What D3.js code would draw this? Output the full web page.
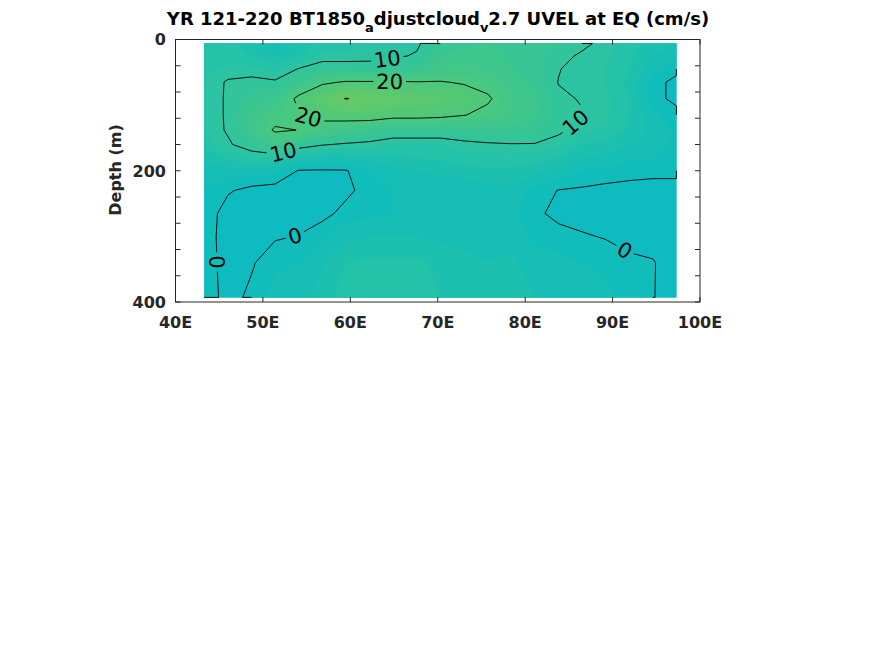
<!DOCTYPE html>
<html>
<head>
<meta charset="utf-8">
<script src="https://cdn.jsdelivr.net/npm/d3@7"></script>
<style>
  body { margin: 0; background: #fff; }
  text { font-family: "DejaVu Sans", sans-serif; }
</style>
</head>
<body>
<svg id="chart" width="875" height="656"></svg>
<script>
// grid longitudes (deg E) and depths (m)
const lons = [43.3, 46.0, 48.7, 51.4, 54.1, 56.8, 59.5, 62.2, 64.9, 67.6, 70.3,
              73.0, 75.7, 78.4, 81.1, 83.8, 86.5, 89.2, 91.9, 94.6, 97.3];
const depths = [6, 25, 45, 65, 90, 115, 138, 160, 180, 200, 230, 265, 300, 340, 393];

// UVEL (cm/s), one profile per longitude, top to bottom
const uvel = [
  [7, 7, 7.5, 8, 8, 8, 8, 6.5, 4.5, 3, 2, 1.5, 1.5, 1.5, 1.5],
  [6.5, 7, 8.5, 10.4, 10.5, 10.5, 10.4, 9.5, 6.5, 3, 0.3, -1.2, -1.5, -1.3, -1],
  [5, 6, 8.5, 11, 13, 15, 15, 12, 8, 3, -0.8, -1.5, -1.2, -0.3, 0.6],
  [3, 4, 7.5, 10.5, 14, 17.5, 20.8, 15, 8, 2.5, -1.2, -1.5, -0.3, 1.5, 3],
  [4.5, 6, 10.2, 14, 21.5, 19.8, 19.9, 12, 5, -0.2, -1.5, -1.2, 0.1, 2, 3.5],
  [6.5, 8.5, 12, 19, 26, 22, 17, 10.3, 4, -0.3, -1.5, -0.8, 1.5, 3.5, 5],
  [7, 8.5, 12, 20.5, 30.3, 23, 15.5, 9.5, 4, -0.2, -0.6, 0.8, 3.5, 6, 7],
  [8, 9, 11.5, 20.5, 28, 23.5, 14, 9, 5, 2, 1, 1.5, 4, 6.5, 7],
  [8.5, 9.5, 12.5, 20.5, 27, 22, 12.5, 8, 5.5, 3, 2, 2, 4, 6.5, 7],
  [9.5, 10.3, 13, 20.2, 26, 22, 12.5, 8, 6, 4, 2.5, 2.5, 4, 6.5, 7],
  [12.5, 14, 16, 20.3, 24.5, 21.5, 12.5, 8, 6.5, 4.5, 2.5, 2.5, 3.5, 5.5, 6],
  [13.5, 15, 16.5, 19.5, 23, 20.2, 13, 9, 7, 5, 2.5, 2, 3, 5, 5.5],
  [14, 15, 16, 18, 20.8, 18.5, 13.5, 9.5, 7.5, 5.5, 3, 2.5, 2.5, 4, 5],
  [13, 13.5, 14, 15, 16.5, 16, 13.5, 9.8, 7.5, 5.5, 3.5, 2.5, 3, 4.5, 5],
  [12.5, 12.5, 13, 13.5, 14.5, 14.5, 12.5, 9.8, 7, 4.5, 1.5, 0.6, 1.5, 3, 4],
  [12, 11, 10.2, 9.9, 10.5, 11, 10.8, 8.5, 6, 3.5, -0.1, -0.8, 1, 2.5, 3.5],
  [10.8, 9.5, 8.5, 9, 9.8, 10.2, 8.5, 6, 4, 2, -0.4, -1.2, 0.3, 2, 3],
  [9, 8.5, 8, 8, 8.5, 8.5, 7.5, 5.5, 3.5, 1.5, -0.8, -1.5, -0.2, 1.5, 2.5],
  [7, 6.5, 6, 5.5, 6, 6, 5.5, 4, 2.5, 1, -1, -1.5, -0.8, 0.5, 1.5],
  [5, 4, 2.5, 1, 1, 2.5, 3.5, 3, 2, 0.8, -1.2, -1.8, -1.2, 0.2, 0.1],
  [4, 2.5, 0.8, -0.8, -0.8, 1, 1.5, 1.5, 1, 1, -1.5, -2, -2, -1.5, -1]
];

const fillLevels = d3.range(-4, 32, 2);
const lineLevels = [0, 10, 20, 30];
const xTicks = [40, 50, 60, 70, 80, 90, 100];
const yTicks = d3.range(0, 401, 40);
const yTickLabels = [0, 200, 400];

// where clabel put its numbers: [level, lon, depth]
const labelSpots = [
  [10, 64.3, 36], [20, 64.5, 66], [20, 55.2, 118], [10, 52.3, 170],
  [10, 86.0, 130], [0, 53.7, 300], [0, 44.7, 339], [0, 91.6, 316]
];

const colorDomain = [-4, 0, 5, 10, 15, 20, 25, 30];
const colorRange = ['#0AB8C8', '#0EBCBE', '#1DC0AF', '#2FC49D', '#3EC68C', '#4CC87D', '#5AC96F', '#68CA62'];

const svg = d3.select('#chart');
const ink = '#262626';

const x = d3.scaleLinear().domain([40, 100]).range([175.5, 700]);
const y = d3.scaleLinear().domain([0, 400]).range([39.5, 302]);

const nx = lons.length, ny = depths.length;
const colIdx = d3.scaleLinear().domain(d3.range(nx)).range(lons).clamp(true);
const rowIdx = d3.scaleLinear().domain(d3.range(ny)).range(depths).clamp(true);
const px = p => [x(colIdx(p[0] - 0.5)), y(rowIdx(p[1] - 0.5))];

const grid = [];
for (let j = 0; j < ny; j++) {
  for (let i = 0; i < nx; i++) grid.push(uvel[i][j]);
}

const color = d3.scaleLinear().domain(colorDomain).range(colorRange);

// filled bands
const ringPath = ring => 'M' + ring.map(p => px(p).join(',')).join('L') + 'Z';
const bands = d3.contours().size([nx, ny]).thresholds(fillLevels)(grid);

svg.append('g')
  .selectAll('path')
  .data(bands)
  .join('path')
  .attr('d', c => c.coordinates.map(poly => poly.map(ringPath).join('')).join(''))
  .attr('fill', c => color(c.value + 1));

// contour lines, without the pieces that run along the grid edge
const onEdge = (a, b) =>
  (a[0] === 0 && b[0] === 0) || (a[0] === nx && b[0] === nx) ||
  (a[1] === 0 && b[1] === 0) || (a[1] === ny && b[1] === ny);

function openRuns(ring) {
  const pts = ring.slice();
  const f = pts[0], l = pts[pts.length - 1];
  if (f[0] !== l[0] || f[1] !== l[1]) pts.push(f);
  const n = pts.length - 1;
  let start = -1;
  for (let k = 0; k < n; k++) {
    if (onEdge(pts[k], pts[k + 1])) { start = k; break; }
  }
  if (start < 0) return [pts];
  const runs = [];
  let cur = [];
  for (let s = 1; s <= n; s++) {
    const k = (start + s) % n;
    const a = pts[k], b = pts[k + 1];
    if (onEdge(a, b)) {
      if (cur.length > 1) runs.push(cur);
      cur = [];
    } else {
      if (!cur.length) cur.push(a);
      cur.push(b);
    }
  }
  if (cur.length > 1) runs.push(cur);
  return runs;
}

const isoLines = d3.contours().size([nx, ny]).thresholds(lineLevels)(grid).map(c => {
  const runs = [];
  c.coordinates.forEach(poly => poly.forEach(ring => {
    openRuns(ring).forEach(r => runs.push(r.map(px)));
  }));
  return { value: c.value, runs };
});

const defs = svg.append('defs');
const mask = defs.append('mask')
  .attr('id', 'gaps')
  .attr('maskUnits', 'userSpaceOnUse')
  .attr('x', 0).attr('y', 0).attr('width', 875).attr('height', 656);
mask.append('rect').attr('width', 875).attr('height', 656).attr('fill', '#fff');

const line = d3.line();
svg.append('g')
  .attr('mask', 'url(#gaps)')
  .selectAll('path')
  .data(isoLines.flatMap(c => c.runs))
  .join('path')
  .attr('d', line)
  .attr('fill', 'none')
  .attr('stroke', '#000')
  .attr('stroke-width', 0.9);

// contour labels
const labelG = svg.append('g');
labelSpots.forEach(([level, lon, depth]) => {
  const iso = isoLines.find(c => c.value === level);
  if (!iso) return;
  const tx = x(lon), ty = y(depth);
  let best = null;
  iso.runs.forEach(run => {
    for (let k = 0; k < run.length - 1; k++) {
      const a = run[k], b = run[k + 1];
      const dx = b[0] - a[0], dy = b[1] - a[1];
      const len2 = dx * dx + dy * dy;
      if (!len2) continue;
      let t = ((tx - a[0]) * dx + (ty - a[1]) * dy) / len2;
      t = Math.max(0, Math.min(1, t));
      const qx = a[0] + t * dx, qy = a[1] + t * dy;
      const d = (qx - tx) ** 2 + (qy - ty) ** 2;
      if (!best || d < best.d) best = { d, qx, qy, ang: Math.atan2(dy, dx) * 180 / Math.PI };
    }
  });
  if (!best) return;
  let ang = best.ang;
  if (ang > 90) ang -= 180;
  if (ang < -90) ang += 180;
  const tr = `translate(${best.qx},${best.qy}) rotate(${ang})`;
  const t = labelG.append('text')
    .attr('transform', tr)
    .attr('text-anchor', 'middle')
    .attr('dy', '0.36em')
    .attr('font-size', 21)
    .attr('fill', '#000')
    .text(level);
  const w = t.node().getComputedTextLength();
  mask.append('rect')
    .attr('transform', tr)
    .attr('x', -w / 2 - 3).attr('y', -10)
    .attr('width', w + 6).attr('height', 20)
    .attr('fill', '#000');
});

// axes box and ticks
const axes = svg.append('g').attr('stroke', ink).attr('stroke-width', 1);
axes.append('rect')
  .attr('x', x(40)).attr('y', y(0))
  .attr('width', x(100) - x(40)).attr('height', y(400) - y(0))
  .attr('fill', 'none');
axes.selectAll('.xtb').data(xTicks).join('line')
  .attr('x1', d => x(d)).attr('x2', d => x(d))
  .attr('y1', y(400)).attr('y2', y(400) - 5);
axes.selectAll('.xtt').data(xTicks).join('line')
  .attr('x1', d => x(d)).attr('x2', d => x(d))
  .attr('y1', y(0)).attr('y2', y(0) + 5);
axes.selectAll('.ytl').data(yTicks).join('line')
  .attr('x1', x(40)).attr('x2', x(40) + 5)
  .attr('y1', d => y(d)).attr('y2', d => y(d));
axes.selectAll('.ytr').data(yTicks).join('line')
  .attr('x1', x(100)).attr('x2', x(100) - 5)
  .attr('y1', d => y(d)).attr('y2', d => y(d));

svg.append('g').selectAll('text').data(xTicks).join('text')
  .attr('x', d => x(d)).attr('y', 328)
  .attr('text-anchor', 'middle')
  .attr('font-size', 16).attr('font-weight', 'bold').attr('fill', ink)
  .text(d => d + 'E');

svg.append('g').selectAll('text').data(yTickLabels).join('text')
  .attr('x', 166).attr('y', d => y(d))
  .attr('dy', '0.36em')
  .attr('text-anchor', 'end')
  .attr('font-size', 16).attr('font-weight', 'bold').attr('fill', ink)
  .text(d => d);

svg.append('text')
  .attr('transform', 'translate(121,170) rotate(-90)')
  .attr('text-anchor', 'middle')
  .attr('font-size', 16).attr('font-weight', 'bold').attr('fill', ink)
  .text('Depth (m)');

const title = svg.append('text')
  .attr('x', 438).attr('y', 25)
  .attr('text-anchor', 'middle')
  .attr('font-size', 18).attr('font-weight', 'bold').attr('fill', '#000');
title.append('tspan').text('YR 121-220 BT1850');
title.append('tspan').attr('font-size', 13).attr('dy', 7).text('a');
title.append('tspan').attr('dy', -7).text('djustcloud');
title.append('tspan').attr('font-size', 13).attr('dy', 7).text('v');
title.append('tspan').attr('dy', -7).text('2.7 UVEL at EQ (cm/s)');
</script>
</body>
</html>
